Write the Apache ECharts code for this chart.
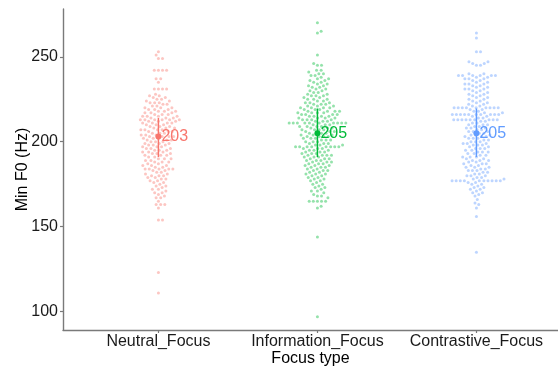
<!DOCTYPE html>
<html>
<head>
<meta charset="utf-8">
<script src="https://cdn.jsdelivr.net/npm/echarts@6/dist/echarts.min.js"></script>
<style>
  html, body { margin: 0; padding: 0; background: #ffffff; }
  #chart { width: 558px; height: 368px; }
</style>
</head>
<body>
<div id="chart"></div>
<script>
// Focus types shown along the x axis
const categories = ['Neutral_Focus', 'Information_Focus', 'Contrastive_Focus'];
const colors = ['#F8766D', '#00BA38', '#619CFF'];

// Min F0 observations per focus type, as [Hz, number of tokens]
const neutralCounts = [
  [111,1],[123,1],[154,2],[161,1],[163,3],[165,1],[167,2],[168,1],
  [169,1],[170,2],[171,1],[172,2],[173,1],[174,2],[175,1],[176,2],[177,2],[178,2],[179,2],
  [180,3],[181,2],[182,2],[183,2],[184,5],[185,2],[186,3],[187,2],[188,3],[189,2],[190,3],
  [191,2],[192,3],[193,3],[194,3],[195,3],[196,3],[197,3],[198,3],[199,3],[200,3],[201,3],
  [202,3],[203,4],[204,3],[205,3],[206,3],[207,4],[208,3],[209,3],[210,3],[211,4],[212,3],
  [213,6],[214,3],[215,4],[216,3],[217,3],[218,3],[219,3],[220,3],[221,2],[222,2],[223,3],
  [224,2],[225,2],[226,2],[227,2],[228,1],[231,4],[235,1],[237,2],[242,4],[249,2],[251,1],[253,1]
];
const informationCounts = [
  [97,1],[144,1],[161,1],[162,1],[165,5],[167,1],[168,2],[169,1],[170,1],[171,2],
  [172,1],[173,2],[174,1],[175,2],[176,1],[177,2],[178,2],[179,2],[180,2],[181,3],[182,2],
  [183,3],[184,2],[185,3],[186,3],[187,3],[188,3],[189,3],[190,3],[191,3],[192,4],[193,3],
  [194,3],[195,3],[196,3],[197,8],[198,3],[199,3],[200,3],[201,3],[202,3],[203,4],[204,3],
  [205,4],[206,3],[207,4],[208,3],[209,4],[210,3],[211,10],[212,3],[213,4],[214,4],[215,4],
  [216,4],[217,4],[218,4],[219,3],[220,4],[221,3],[222,3],[223,3],[224,2],[225,3],[226,2],
  [227,3],[228,2],[229,2],[230,2],[231,2],[232,2],[233,2],[234,2],[235,2],[236,2],[237,2],
  [238,1],[239,2],[240,2],[241,1],[242,2],[245,2],[246,1],[251,1],[264,1],[265,1],[270,1]
];
const contrastiveCounts = [
  [135,1],[156,1],[161,1],[163,1],[164,1],[166,1],[168,1],[169,1],[170,2],[171,1],
  [172,2],[173,2],[174,1],[175,2],[176,2],[177,10],[178,2],[179,2],[180,3],[181,2],[182,2],
  [183,3],[184,2],[185,3],[186,2],[187,3],[188,2],[189,3],[190,2],[191,3],[192,2],[193,2],
  [194,3],[195,2],[196,3],[197,2],[198,3],[199,3],[200,3],[201,2],[202,3],[203,3],[204,3],
  [205,2],[206,3],[207,2],[208,3],[209,2],[210,3],[211,2],[212,2],[213,9],[214,2],[215,2],
  [216,10],[217,2],[218,2],[219,2],[220,9],[221,2],[222,2],[223,2],[224,2],[225,2],[226,2],
  [227,2],[228,2],[229,2],[230,2],[231,3],[232,2],[233,2],[234,3],[235,2],[236,2],[237,3],
  [238,2],[239,6],[240,2],[245,2],[246,2],[247,2],[253,2],[261,1],[264,1]
];
const groupCounts = [neutralCounts, informationCounts, contrastiveCounts];

// Group summaries: mean with its spread bar
const means = [203, 205, 205];
const barLow = [191, 191, 191];
const barHigh = [214, 219.5, 219.5];

// Axis ticks
const yTicks = [100, 150, 200, 250];
const xTicks = [1, 2, 3];

const FONT = 'Liberation Sans, Arial, sans-serif';
const chart = echarts.init(document.getElementById('chart'), null, { renderer: 'canvas' });

function baseOption(series) {
  return {
    animation: false,
    backgroundColor: '#ffffff',
    grid: { left: 63, right: 0, top: 9, bottom: 38, containLabel: false, outerBoundsMode: 'none' },
    xAxis: {
      type: 'value', min: 0.4, max: 3.513,
      name: 'Focus type', nameLocation: 'middle', nameGap: 21, nameMoveOverlap: false,
      nameTextStyle: { fontFamily: FONT, fontSize: 16, color: '#000000' },
      axisLine: { show: true, onZero: false, lineStyle: { color: '#7a7a7a', width: 1.4 } },
      axisTick: { show: true, customValues: xTicks, length: 3, lineStyle: { color: '#7a7a7a', width: 1.2 } },
      axisLabel: {
        customValues: xTicks, margin: 4, fontFamily: FONT, fontSize: 16, color: '#1a1a1a',
        formatter: v => categories[Math.round(v) - 1] || ''
      },
      splitLine: { show: false }
    },
    yAxis: {
      type: 'value', min: 89.2, max: 278.1,
      name: 'Min F0 (Hz)', nameLocation: 'middle', nameGap: 32, nameRotate: 90, nameMoveOverlap: false,
      nameTextStyle: { fontFamily: FONT, fontSize: 16, color: '#000000' },
      axisLine: { show: true, onZero: false, lineStyle: { color: '#7a7a7a', width: 1.4 } },
      axisTick: { show: true, customValues: yTicks, length: 3, lineStyle: { color: '#7a7a7a', width: 1.2 } },
      axisLabel: { customValues: yTicks, margin: 5, fontFamily: FONT, fontSize: 16, color: '#1a1a1a' },
      splitLine: { show: false }
    },
    series: series
  };
}

chart.setOption(baseOption([]));

// Pixel scale of the grid, taken from the axes themselves
const pa = chart.convertToPixel({ gridIndex: 0 }, [1, 200]);
const pb = chart.convertToPixel({ gridIndex: 0 }, [2, 250]);
const pxPerX = pb[0] - pa[0];
const pxPerY = (pa[1] - pb[1]) / 50;
const SPACING = 4.1; // centre-to-centre distance between neighbouring dots, px

// Beeswarm placement: each dot goes as close to the centre line as it can without overlapping
function swarm(counts, centre) {
  const values = [];
  counts.forEach(([v, n]) => { for (let i = 0; i < n; i++) values.push(v); });
  values.sort((a, b) => a - b);
  const placed = [];
  const out = [];
  const d2 = SPACING * SPACING;
  values.forEach(v => {
    const y = v * pxPerY;
    const near = placed.filter(p => Math.abs(p.y - y) < SPACING);
    const cands = [0];
    near.forEach(p => {
      const dx = Math.sqrt(d2 - (p.y - y) * (p.y - y));
      cands.push(p.x + dx, p.x - dx);
    });
    cands.sort((a, b) => Math.abs(a) - Math.abs(b));
    let x = 0;
    for (const c of cands) {
      if (near.every(p => (p.x - c) * (p.x - c) + (p.y - y) * (p.y - y) >= d2 - 1e-6)) { x = c; break; }
    }
    placed.push({ x, y });
    out.push([centre + x / pxPerX, v]);
  });
  return out;
}

const series = [];
groupCounts.forEach((counts, i) => {
  const centre = xTicks[i];
  series.push({
    type: 'scatter', symbol: 'circle', symbolSize: 3, silent: true,
    itemStyle: { color: colors[i], opacity: 0.42 },
    data: swarm(counts, centre), z: 2
  });
  series.push({
    type: 'line', symbol: 'none', silent: true,
    lineStyle: { color: colors[i], width: 1.5 },
    data: [[centre, barLow[i]], [centre, barHigh[i]]], z: 3
  });
  series.push({
    type: 'scatter', symbol: 'circle', symbolSize: 6, silent: true,
    itemStyle: { color: colors[i], opacity: 1 },
    label: {
      show: true, position: 'right', distance: 0,
      fontFamily: FONT, fontSize: 16, color: colors[i],
      formatter: p => String(p.value[1])
    },
    data: [[centre, means[i]]], z: 4
  });
});

chart.setOption(baseOption(series));
</script>
</body>
</html>
